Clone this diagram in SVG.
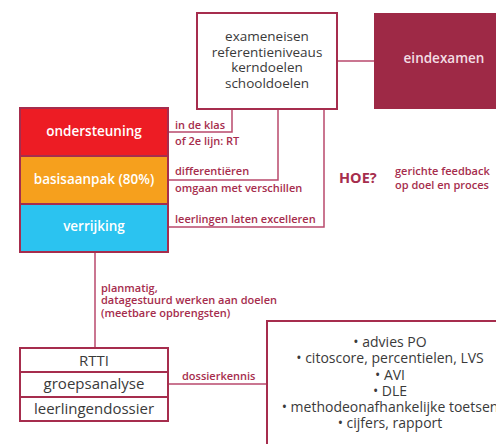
<svg xmlns="http://www.w3.org/2000/svg" width="496" height="444" viewBox="0 0 496 444">
<style>
.box{fill:#fff;stroke:#a62d4d;stroke-width:2}
.dk{font-family:"Open Sans","Liberation Sans",sans-serif;font-size:13.5px;fill:#3a3a3a;text-anchor:middle}
.bt{font-family:"Open Sans","Liberation Sans",sans-serif;font-size:15px;fill:#3a3a3a;text-anchor:middle}
.ls{font-family:"Open Sans","Liberation Sans",sans-serif;font-size:14px;fill:#3a3a3a;text-anchor:middle}
.wt{font-family:"Open Sans","Liberation Sans",sans-serif;font-size:13.5px;fill:#fff;text-anchor:middle;font-weight:600}
.lb{font-family:"Open Sans","Liberation Sans",sans-serif;font-size:11px;fill:#a62d4d;font-weight:600}
.ln{fill:none;stroke:#b9496c;stroke-width:1.5}
</style>
<g id="connectors">
<path class="ln" d="M337,61 H374"/>
<path class="ln" d="M168,132 H232 V109"/>
<path class="ln" d="M168,180 H278 V109"/>
<path class="ln" d="M168,227 H324 V109"/>
<path class="ln" d="M95,252 V348"/>
<path class="ln" d="M168,384 H267"/>
</g>
<g id="doelen">
<rect class="box" x="197" y="13" width="140" height="96"/>
<text class="dk" x="267" y="41">exameneisen</text>
<text class="dk" x="267" y="57">referentieniveaus</text>
<text class="dk" x="267" y="72">kerndoelen</text>
<text class="dk" x="267" y="88">schooldoelen</text>
</g>
<g id="eindexamen">
<rect x="374" y="13" width="124" height="96" fill="#9e2946"/>
<text class="wt" x="444" y="63" style="fill:#f3dde4">eindexamen</text>
</g>
<g id="ondersteuning">
<rect x="20" y="108" width="148" height="48" fill="#ed1c24" stroke="#a62d4d" stroke-width="2"/>
<text class="wt" x="94" y="136">ondersteuning</text>
</g>
<g id="basisaanpak">
<rect x="20" y="156" width="148" height="48" fill="#f6a01d" stroke="#a62d4d" stroke-width="2"/>
<text class="wt" x="94" y="184">basisaanpak (80%)</text>
</g>
<g id="verrijking">
<rect x="20" y="204" width="148" height="48" fill="#2bc3f0" stroke="#a62d4d" stroke-width="2"/>
<text class="wt" x="94" y="231">verrijking</text>
</g>
<g id="labels">
<text class="lb" x="175" y="129">in de klas</text>
<text class="lb" x="175" y="145">of 2e lijn: RT</text>
<text class="lb" x="175" y="175">differentiëren</text>
<text class="lb" x="175" y="192">omgaan met verschillen</text>
<text class="lb" x="175" y="223">leerlingen laten excelleren</text>
<text class="lb" x="101" y="292">planmatig,</text>
<text class="lb" x="101" y="304">datagestuurd werken aan doelen</text>
<text class="lb" x="101" y="317">(meetbare opbrengsten)</text>
<text class="lb" x="182" y="380">dossierkennis</text>
</g>
<g id="hoe">
<text x="339" y="183" font-family="Open Sans, Liberation Sans, sans-serif" font-size="14.5" font-weight="700" fill="#a62d4d">HOE?</text>
<text class="lb" x="395" y="175">gerichte feedback</text>
<text class="lb" x="395" y="189">op doel en proces</text>
</g>
<g id="rtti">
<rect class="box" x="20" y="348" width="148" height="24"/>
<text class="bt" x="94" y="366">RTTI</text>
</g>
<g id="groepsanalyse">
<rect class="box" x="20" y="372" width="148" height="25"/>
<text class="bt" x="94" y="389">groepsanalyse</text>
</g>
<g id="leerlingendossier">
<rect class="box" x="20" y="397" width="148" height="24"/>
<text class="bt" x="94" y="414">leerlingendossier</text>
</g>
<g id="bronnen">
<rect class="box" x="267" y="321" width="240" height="140"/>
<text class="ls" x="390" y="347">• advies PO</text>
<text class="ls" x="390" y="363">• citoscore, percentielen, LVS</text>
<text class="ls" x="390" y="380">• AVI</text>
<text class="ls" x="390" y="396">• DLE</text>
<text class="ls" x="390" y="412">• methodeonafhankelijke toetsen</text>
<text class="ls" x="390" y="428">• cijfers, rapport</text>
</g>
</svg>
